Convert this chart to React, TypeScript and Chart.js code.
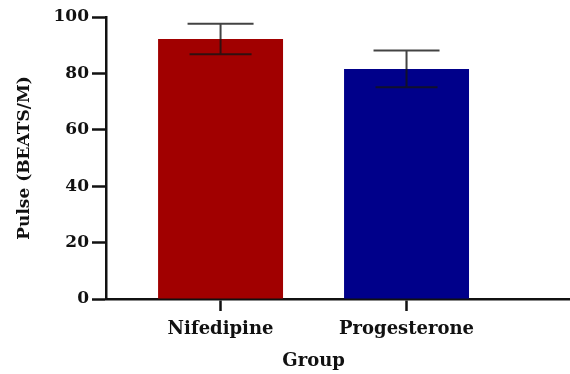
import React, { useEffect, useRef } from "react";
import { Chart, registerables } from "chart.js";

Chart.register(...registerables);

const categories = ["Nifedipine", "Progesterone"];
const positions = [1, 2];
const means = [92.2, 81.6];
const sds = [5.4, 6.5];
const barColors = ["#a10000", "#00008a"];
const yTicks = [0, 20, 40, 60, 80, 100];
const xTitle = "Group";
const yTitle = "Pulse (BEATS/M)";

const FONT = "'DejaVu Serif', 'Liberation Serif', serif";

const errorBars = {
  id: "errorBars",
  afterDatasetsDraw(chart: any) {
    const { ctx } = chart;
    const xs = chart.scales.x;
    const ys = chart.scales.y;
    ctx.save();
    ctx.strokeStyle = "rgba(20,20,20,0.8)";
    ctx.lineWidth = 2;
    positions.forEach((p, i) => {
      const x = xs.getPixelForValue(p);
      const yT = ys.getPixelForValue(means[i] + sds[i]);
      const yB = ys.getPixelForValue(means[i] - sds[i]);
      ctx.beginPath();
      ctx.moveTo(x, yB);
      ctx.lineTo(x, yT);
      ctx.moveTo(x - 33, yT);
      ctx.lineTo(x + 33, yT);
      ctx.moveTo(x - 31, yB);
      ctx.lineTo(x + 31, yB);
      ctx.stroke();
    });
    ctx.restore();
  },
};

const groupTitle = {
  id: "groupTitle",
  afterDraw(chart: any) {
    const { ctx } = chart;
    const xs = chart.scales.x;
    const cx = (xs.getPixelForValue(positions[0]) + xs.getPixelForValue(positions[positions.length - 1])) / 2;
    ctx.save();
    ctx.fillStyle = "#111";
    ctx.font = `bold 18px ${FONT}`;
    ctx.textAlign = "center";
    ctx.textBaseline = "middle";
    ctx.fillText(xTitle, cx, 361);
    ctx.restore();
  },
};

export default function App() {
  const ref = useRef<HTMLCanvasElement>(null);
  useEffect(() => {
    if (!ref.current) return;
    const chart = new Chart(ref.current, {
      type: "bar",
      data: {
        datasets: [
          {
            data: positions.map((p, i) => ({ x: p, y: means[i] })),
            backgroundColor: barColors,
            borderWidth: 0,
            barPercentage: 0.672,
            categoryPercentage: 1,
          },
        ],
      },
      options: {
        responsive: false,
        animation: false,
        layout: { padding: { top: 17, left: 0, right: 0, bottom: 0 } },
        plugins: { legend: { display: false }, tooltip: { enabled: false } },
        scales: {
          x: {
            type: "linear",
            min: 0.384,
            max: 2.879,
            offset: false,
            afterBuildTicks: (s: any) => {
              s.ticks = positions.map((v) => ({ value: v }));
            },
            afterFit: (s: any) => {
              s.height = 75;
            },
            grid: {
              offset: false,
              drawOnChartArea: false,
              drawTicks: true,
              tickLength: 12,
              tickWidth: 2.5,
              color: "#111",
            },
            border: { display: true, color: "#111", width: 2.5 },
            ticks: {
              padding: 8,
              color: "#111",
              font: { family: FONT, size: 18, weight: "bold" },
              callback: (v: any) => {
                const i = positions.indexOf(Number(v));
                return i >= 0 ? categories[i] : "";
              },
            },
            title: { display: false },
          },
          y: {
            min: 0,
            max: 100,
            afterBuildTicks: (s: any) => {
              s.ticks = yTicks.map((v) => ({ value: v }));
            },
            afterFit: (s: any) => {
              s.width = 106;
            },
            grid: {
              drawOnChartArea: false,
              drawTicks: true,
              tickLength: 14,
              tickWidth: 2.5,
              color: "#111",
            },
            border: { display: true, color: "#111", width: 2.5 },
            ticks: {
              padding: 3,
              color: "#111",
              font: { family: FONT, size: 17, weight: "bold" },
            },
            title: {
              display: true,
              text: yTitle,
              color: "#111",
              font: { family: FONT, size: 17, weight: "bold" },
              padding: { top: 14, bottom: 0 },
            },
          },
        },
      },
      plugins: [errorBars, groupTitle],
    } as any);
    return () => chart.destroy();
  }, []);
  return (
    <div style={{ position: "absolute", top: 0, left: 0, width: 570, height: 374, background: "#fff" }}>
      <canvas ref={ref} width={570} height={374} />
    </div>
  );
}
